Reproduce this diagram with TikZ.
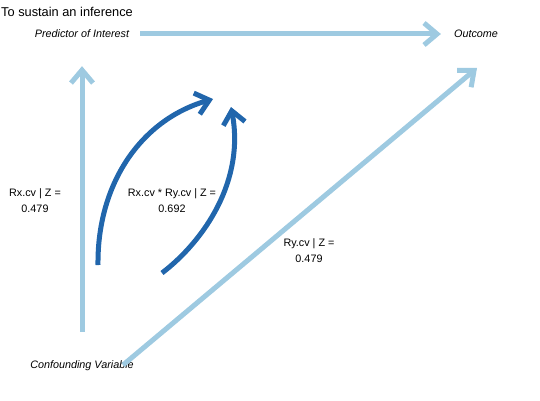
\documentclass[tikz,border=0pt]{standalone}
\usepackage{fontspec}
\setmainfont{Liberation Sans}
\usetikzlibrary{arrows.meta}
\definecolor{lightBlue}{HTML}{9ECAE1}
\definecolor{darkBlue}{HTML}{2166AC}

\begin{document}
\begin{tikzpicture}[x=1pt,y=1pt]
	\tikzstyle{Var} = [font=\fontsize{10.8}{13}\selectfont\itshape, inner sep=0pt]
	\tikzstyle{Label} = [font=\fontsize{10.8}{16}\selectfont, align=center, inner sep=0pt]
	\tikzstyle{arrow} = [line width=5pt, lightBlue, -{Straight Barb[length=13pt,width=22pt]}]
	\tikzstyle{curveArrow} = [line width=5pt, darkBlue, -{Straight Barb[length=13pt,width=22pt]}]
	
	\useasboundingbox (0,0) rectangle (540,400);
	
	\node (title) [anchor=base west, font=\fontsize{12.8}{15}\selectfont, inner sep=0pt] at (1,383) {To sustain an inference};
	
	\node (predictor) [Var] at (82,366) {Predictor of Interest};
	\node (outcome) [Var] at (476,366) {Outcome};
	\node (confounder) [Var] at (82,34) {Confounding Variable};
	
	\node (rxLabel) [Label] at (35,199) {Rx.cv | Z =\\0.479};
	\node (rxryLabel) [Label] at (172,199) {Rx.cv * Ry.cv | Z =\\0.692};
	\node (ryLabel) [Label] at (309,149) {Ry.cv | Z =\\0.479};
	
	\coordinate (xStart) at (98,135);
	\coordinate (xEnd) at (213,301);
	\coordinate (yStart) at (162,127);
	\coordinate (yEnd) at (231,293);
	\coordinate (cvEnd) at (123,35);
	\coordinate (outEnd) at (477,332);
	
	\draw[arrow, shorten <=11pt, shorten >=13pt] (predictor) -- (outcome);
	\draw[arrow, shorten <=29pt, shorten >=28pt] (confounder) -- (predictor);
	\draw[arrow] (cvEnd) -- (outEnd);
	\draw[curveArrow] (xStart) .. controls (97,215) and (140,280) .. (xEnd);
	\draw[curveArrow] (yStart) .. controls (205,160) and (245,220) .. (yEnd);
\end{tikzpicture}
\end{document}
